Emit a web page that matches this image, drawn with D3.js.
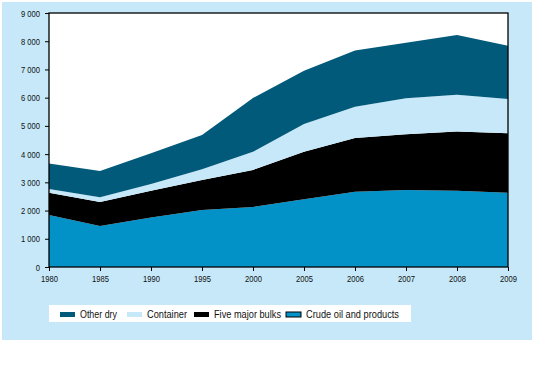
<!DOCTYPE html>
<html>
<head>
<meta charset="utf-8">
<script src="https://cdn.jsdelivr.net/npm/d3@7"></script>
<style>
  body { margin: 0; background: #fff; }
  svg { display: block; font-family: "Liberation Sans", Arial, sans-serif; }
  .axis path, .axis line { stroke: #000; }
  .axis text { fill: #111; font-size: 9.5px; }
</style>
</head>
<body>
<svg id="chart" width="546" height="391"></svg>
<script>
// years on the x axis
const years = ['1980', '1985', '1990', '1995', '2000', '2005', '2006', '2007', '2008', '2009'];
// series values (millions of tons), bottom to top of the stack
const crudeOil = [1840, 1450, 1750, 2020, 2130, 2400, 2670, 2730, 2700, 2630];
const fiveMajorBulks = [790, 850, 950, 1060, 1310, 1680, 1900, 1970, 2100, 2110];
const container = [130, 170, 240, 380, 640, 990, 1110, 1280, 1300, 1210];
const otherDry = [910, 930, 1090, 1220, 1910, 1880, 1990, 1970, 2120, 1890];
const yTicks = [0, 1000, 2000, 3000, 4000, 5000, 6000, 7000, 8000, 9000];

const keys = ['crude', 'bulks', 'container', 'other'];
const labels = { other: 'Other dry', container: 'Container', bulks: 'Five major bulks', crude: 'Crude  oil and products' };
const colors = { other: '#025a7b', container: '#c6e8f8', bulks: '#000000', crude: '#0392c8' };

const rows = years.map((y, i) => ({
  year: y, crude: crudeOil[i], bulks: fiveMajorBulks[i], container: container[i], other: otherDry[i]
}));

const svg = d3.select('#chart');
const margin = { left: 49, right: 38, top: 13, bottom: 124 };
const width = 546 - margin.left - margin.right;
const height = 391 - margin.top - margin.bottom;

// squeeze text horizontally to mimic the narrow font of the original
const narrow = (sel, k) => sel.each(function () {
  const w = this.getComputedTextLength();
  d3.select(this).attr('textLength', w * k).attr('lengthAdjust', 'spacingAndGlyphs');
});

// light blue panel behind everything
svg.append('rect')
  .attr('x', 2).attr('y', 2).attr('width', 530).attr('height', 338)
  .attr('fill', '#c6e8f8');

const g = svg.append('g').attr('transform', `translate(${margin.left},${margin.top})`);

g.append('rect').attr('width', width).attr('height', height).attr('fill', '#fff');

const x = d3.scalePoint().domain(years).range([0, width]);
const y = d3.scaleLinear().domain([0, 9000]).range([height, 0]);

const stacked = d3.stack().keys(keys)(rows);

const area = d3.area()
  .x(d => x(d.data.year))
  .y0(d => y(d[0]))
  .y1(d => y(d[1]));

g.selectAll('path.layer')
  .data(stacked)
  .join('path')
  .attr('class', 'layer')
  .attr('fill', d => colors[d.key])
  .attr('d', area);

// frame
g.append('rect').attr('width', width).attr('height', height)
  .attr('fill', 'none').attr('stroke', '#000').attr('stroke-width', 1.3);

const fmt = d3.formatLocale({ decimal: '.', thousands: ' ', grouping: [3], currency: ['', ''] }).format(',');

g.append('g')
  .attr('class', 'axis')
  .call(d3.axisLeft(y).tickValues(yTicks).tickFormat(fmt).tickSize(4).tickPadding(5))
  .call(a => a.select('.domain').remove())
  .call(a => a.selectAll('text').call(narrow, 0.8));

g.append('g')
  .attr('class', 'axis')
  .attr('transform', `translate(0,${height})`)
  .call(d3.axisBottom(x).tickSize(4).tickPadding(4))
  .call(a => a.select('.domain').remove())
  .call(a => a.selectAll('text').call(narrow, 0.8));

// legend
const legend = svg.append('g').attr('transform', 'translate(49,305)');
legend.append('rect').attr('width', 362).attr('height', 17).attr('fill', '#fff');

const legendKeys = ['other', 'container', 'bulks', 'crude'];
const legendX = [11, 78, 145, 237];
const legendW = [37, 40, 67, 93];
legendKeys.forEach((k, i) => {
  const it = legend.append('g').attr('transform', `translate(${legendX[i]},0)`);
  it.append('rect')
    .attr('x', 0).attr('y', 7).attr('width', 15).attr('height', 5)
    .attr('fill', colors[k])
    .attr('stroke', k === 'crude' ? '#000' : 'none')
    .attr('stroke-width', 1);
  it.append('text')
    .attr('x', 20).attr('y', 12.5)
    .attr('font-size', 10.5)
    .attr('fill', '#111')
    .attr('textLength', legendW[i])
    .attr('lengthAdjust', 'spacingAndGlyphs')
    .text(labels[k]);
});
</script>
</body>
</html>
